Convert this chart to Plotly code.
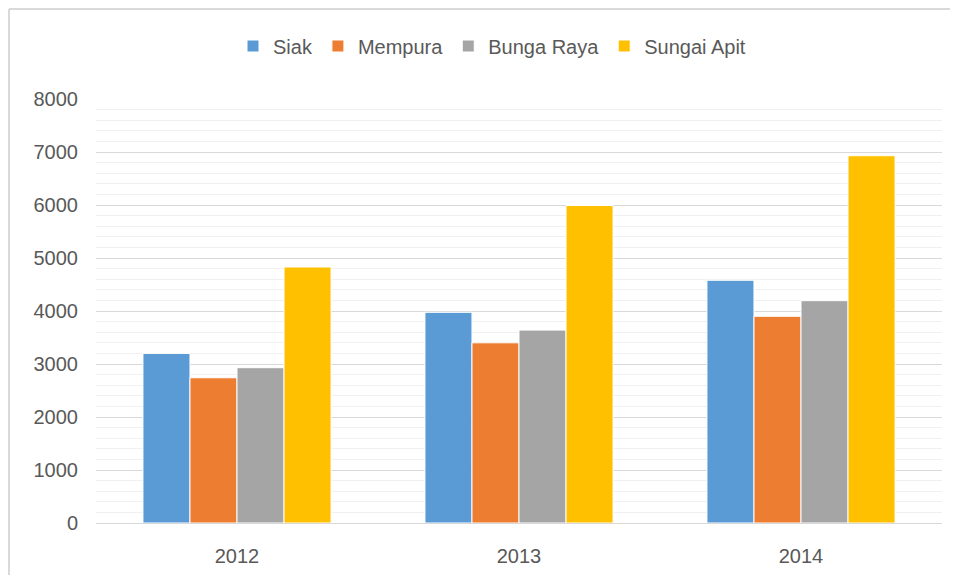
import plotly.graph_objects as go

years = ["2012", "2013", "2014"]
siak = [3200, 3975, 4580]
mempura = [2740, 3400, 3900]
bunga_raya = [2930, 3640, 4195]
sungai_apit = [4830, 5990, 6930]

series = [
    ("Siak", siak, "#5B9BD5"),
    ("Mempura", mempura, "#ED7D31"),
    ("Bunga Raya", bunga_raya, "#A5A5A5"),
    ("Sungai Apit", sungai_apit, "#FFC000"),
]

# page body adds 8px margin on each side; work in figure coordinates (viewport - 8)
OFF = 8
W, H = 958 - 2 * OFF, 583 - 2 * OFF
L, T = 96 - OFF, 99 - OFF
R = W - (942 - OFF)
B = H - (523 - OFF)
pw, ph = W - L - R, H - T - B

fig = go.Figure()
for name, vals, col in series:
    fig.add_trace(go.Bar(name=name, x=years, y=vals, marker_color=col,
                         marker_line_color="white", marker_line_width=1))

font = dict(family="Liberation Sans, Arial, sans-serif", size=20, color="#595959")

def px_x(p):
    return (p - OFF - L) / pw

def px_y(p):
    return (H - B - (p - OFF)) / ph

border = dict(color="#D9D9D9", width=2)
fig.update_layout(
    width=W, height=H,
    margin=dict(l=L, r=R, t=T, b=B),
    paper_bgcolor="white", plot_bgcolor="white",
    barmode="group", bargap=0.333, bargroupgap=0,
    font=font,
    legend=dict(orientation="h", x=px_x(492), xanchor="center",
                y=px_y(46), yanchor="middle", font=font,
                itemwidth=30, tracegroupgap=0),
    xaxis=dict(showgrid=False, showline=True, linecolor="#D9D9D9", linewidth=1,
               ticks="", ticklabelstandoff=15, tickfont=font),
    yaxis=dict(range=[0, 8000], dtick=1000, tick0=0, showgrid=True,
               gridcolor="#D9D9D9", gridwidth=1, zeroline=False,
               ticks="", ticklabelstandoff=17, tickfont=font,
               minor=dict(dtick=200, showgrid=True, gridcolor="#F0F0F0", gridwidth=1)),
    shapes=[
        dict(type="line", xref="paper", yref="paper",
             x0=px_x(9), x1=px_x(9), y0=px_y(600), y1=px_y(9), line=border, layer="below"),
        dict(type="line", xref="paper", yref="paper",
             x0=px_x(9), x1=px_x(990), y0=px_y(9), y1=px_y(9), line=border, layer="below"),
    ],
)

fig.write_html("out.html")
